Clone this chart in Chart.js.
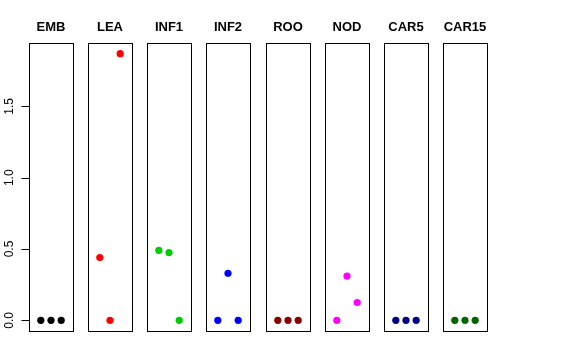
<!DOCTYPE html>
<html>
<head>
<meta charset="utf-8">
<script src="https://cdn.jsdelivr.net/npm/chart.js@4"></script>
<style>
  body { margin: 0; background: #fff; }
  #wrap { position: relative; width: 576px; height: 360px; overflow: hidden; }
  #wrap canvas { position: absolute; top: 0; }
</style>
</head>
<body>
<div id="wrap"></div>
<script>
// panel names and point values (x = 1, 2, 3 in each panel)
const tissues = ['EMB', 'LEA', 'INF1', 'INF2', 'ROO', 'NOD', 'CAR5', 'CAR15'];
const xPositions = [1, 2, 3];
const emb = [0, 0, 0];
const lea = [0.44, 0, 1.87];
const inf1 = [0.49, 0.475, 0];
const inf2 = [0, 0.33, 0];
const roo = [0, 0, 0];
const nod = [0, 0.31, 0.125];
const car5 = [0, 0, 0];
const car15 = [0, 0, 0];
const yTicks = [0, 0.5, 1.0, 1.5];
const yTickLabels = ['0.0', '0.5', '1.0', '1.5'];

const series = [emb, lea, inf1, inf2, roo, nod, car5, car15];
const colors = ['#000000', '#FF0000', '#00CD00', '#0000FF', '#8B0000', '#FF00FF', '#00008B', '#006400'];

const FONT = 'Liberation Sans, Arial, Helvetica, sans-serif';
const wrap = document.getElementById('wrap');

// draws the box around each panel
const boxPlugin = {
    id: 'box',
    afterDraw(chart) {
        const a = chart.chartArea;
        const c = chart.ctx;
        c.save();
        c.strokeStyle = '#000';
        c.lineWidth = 1;
        c.strokeRect(Math.round(a.left) + 0.5, Math.round(a.top) + 0.5,
            Math.round(a.right - a.left), Math.round(a.bottom - a.top));
        c.restore();
    }
};

// left axis with rotated labels (only on the first panel)
const yAxisPlugin = {
    id: 'yAxisR',
    afterDraw(chart) {
        const y = chart.scales.y;
        const a = chart.chartArea;
        const c = chart.ctx;
        const x0 = Math.round(a.left) + 0.5;
        c.save();
        c.strokeStyle = '#000';
        c.lineWidth = 1;
        c.beginPath();
        c.moveTo(x0, Math.round(y.getPixelForValue(yTicks[0])) + 0.5);
        c.lineTo(x0, Math.round(y.getPixelForValue(yTicks[yTicks.length - 1])) + 0.5);
        yTicks.forEach(v => {
            const py = Math.round(y.getPixelForValue(v)) + 0.5;
            c.moveTo(x0 - 8, py);
            c.lineTo(x0, py);
        });
        c.stroke();
        c.fillStyle = '#000';
        c.font = '12px ' + FONT;
        c.textAlign = 'center';
        c.textBaseline = 'middle';
        yTicks.forEach((v, i) => {
            const py = y.getPixelForValue(v);
            c.save();
            c.translate(x0 - 20, py);
            c.rotate(-Math.PI / 2);
            c.fillText(yTickLabels[i], 0, 0);
            c.restore();
        });
        c.restore();
    }
};

tissues.forEach((name, i) => {
    const panelLeft = Math.round(29 + i * 59.14);
    const first = i === 0;
    const padL = first ? panelLeft : 10;
    const canvasLeft = panelLeft - padL;
    const width = padL + 44 + 10;

    const canvas = document.createElement('canvas');
    canvas.width = width;
    canvas.height = 360;
    canvas.style.left = canvasLeft + 'px';
    canvas.style.width = width + 'px';
    canvas.style.height = '360px';
    wrap.appendChild(canvas);

    new Chart(canvas.getContext('2d'), {
        type: 'scatter',
        data: {
            datasets: [{
                data: xPositions.map((x, k) => ({ x: x, y: series[i][k] })),
                backgroundColor: colors[i],
                borderColor: colors[i],
                borderWidth: 0,
                pointRadius: 3.6,
                pointHoverRadius: 3.6
            }]
        },
        options: {
            responsive: false,
            animation: false,
            events: [],
            layout: { padding: { left: padL, right: 10, top: 0, bottom: 29 } },
            scales: {
                x: { type: 'linear', min: -0.16, max: 4.16, display: false },
                y: { type: 'linear', min: -0.075, max: 1.945, display: false }
            },
            plugins: {
                legend: { display: false },
                tooltip: { enabled: false },
                title: {
                    display: true,
                    text: name,
                    color: '#000',
                    font: { family: FONT, size: 13, weight: 'bold', lineHeight: 1.2 },
                    padding: { top: 20, bottom: 7.4 }
                }
            }
        },
        plugins: first ? [boxPlugin, yAxisPlugin] : [boxPlugin]
    });
});
</script>
</body>
</html>
